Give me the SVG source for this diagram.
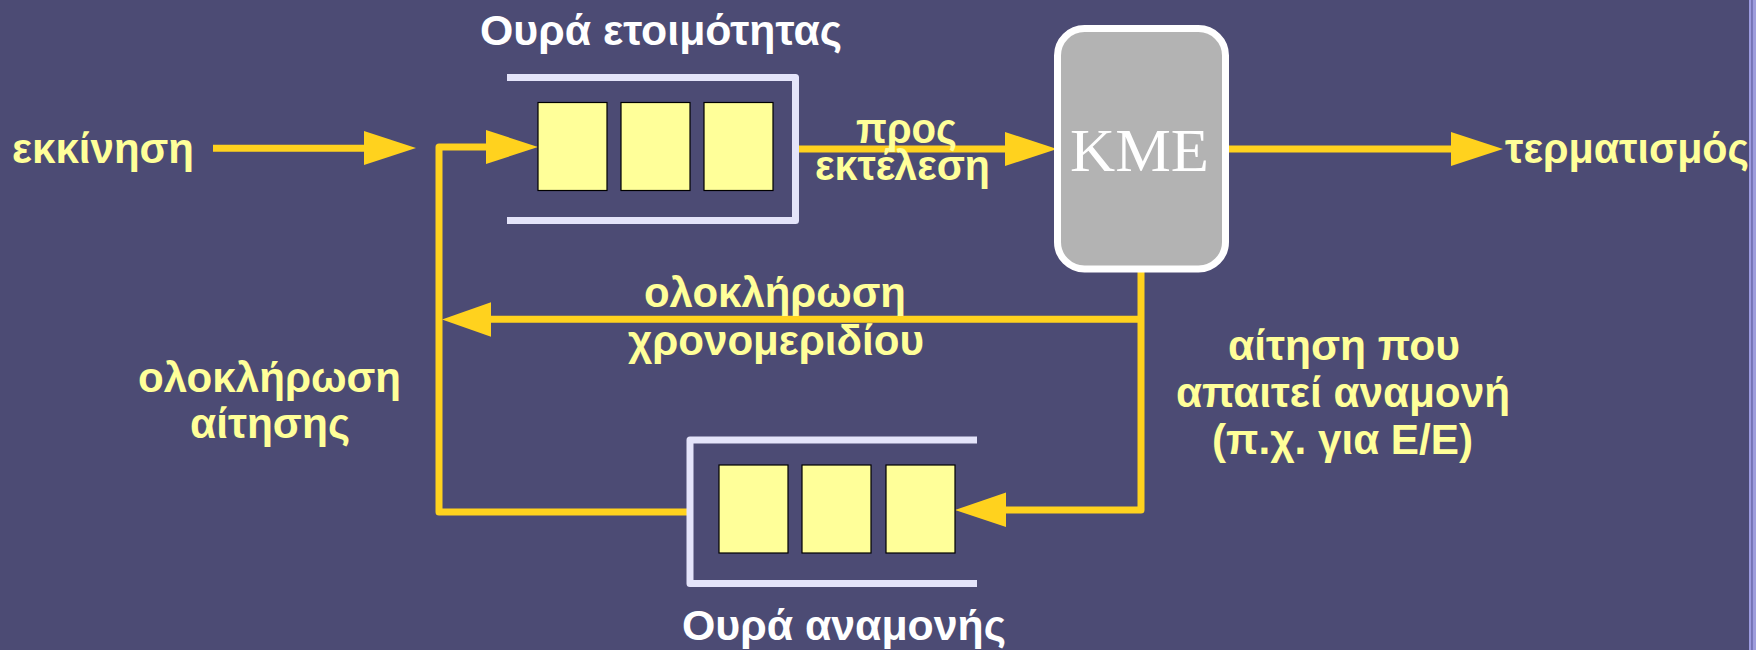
<svg xmlns="http://www.w3.org/2000/svg" width="1756" height="650" viewBox="0 0 1756 650">
  <defs>
    <style>
      .lbl { font-family: "Liberation Sans", Arial, "Noto Sans", sans-serif; font-weight: bold; font-size: 42px; fill: #FFFF99; }
      .ttl { font-family: "Liberation Sans", Arial, "Noto Sans", sans-serif; font-weight: bold; font-size: 43px; fill: #FFFFFF; }
      .cpu-txt { font-family: "Liberation Serif", "Times New Roman", serif; font-size: 62px; fill: #FFFFFF; }
      .wire { fill: none; stroke: #FFD21E; stroke-width: 7; stroke-linejoin: round; }
      .head { fill: #FFD21E; }
      .bracket { fill: none; stroke: #E4E4FA; stroke-width: 7; stroke-linejoin: round; }
      .slot { fill: #FFFF99; stroke: #000000; stroke-width: 1.2; }
    </style>
  </defs>

  <!-- background -->
  <rect x="0" y="0" width="1756" height="650" fill="#4C4B74"/>
  <rect x="1749" y="0" width="2.5" height="650" fill="#9C9BE0"/>
  <rect x="1751.5" y="0" width="1.5" height="650" fill="#7877BC"/>
  <rect x="1753" y="0" width="3" height="650" fill="#9E9DDC"/>

  <!-- connectors -->
  <g id="connectors">
    <!-- start -> ready queue -->
    <line class="wire" x1="213" y1="148.3" x2="370" y2="148.3"/>
    <polygon class="head" points="364,131 416,148 364,165"/>
    <!-- waiting queue -> back into ready queue -->
    <path class="wire" d="M688,512 H439 V147 H492"/>
    <polygon class="head" points="486,130 538,147 486,164"/>
    <!-- ready queue -> CPU -->
    <line class="wire" x1="796" y1="149" x2="1010" y2="149"/>
    <polygon class="head" points="1005,132 1057,149 1005,166"/>
    <!-- CPU -> termination -->
    <line class="wire" x1="1226" y1="149" x2="1456" y2="149"/>
    <polygon class="head" points="1451,132 1503,149 1451,166"/>
    <!-- CPU -> time slice expired / I/O wait -->
    <path class="wire" d="M1141,269 V510 H1000"/>
    <line class="wire" x1="1141" y1="319.3" x2="486" y2="319.3"/>
    <polygon class="head" points="491,302.3 442,319.5 491,336.7"/>
    <polygon class="head" points="1006,492.5 955,510 1006,527"/>
  </g>

  <!-- ready queue -->
  <g id="ready-queue">
    <path class="bracket" d="M507,77.5 H795.5 V220.5 H507"/>
    <rect class="slot" x="538" y="102.5" width="69" height="88"/>
    <rect class="slot" x="621" y="102.5" width="69" height="88"/>
    <rect class="slot" x="704" y="102.5" width="69" height="88"/>
    <text class="ttl" x="480" y="45" textLength="362" lengthAdjust="spacingAndGlyphs">Ουρά ετοιμότητας</text>
  </g>

  <!-- CPU -->
  <g id="cpu">
    <rect x="1057.5" y="28.5" width="168" height="240.5" rx="27" ry="27" fill="#B3B3B3" stroke="#FFFFFF" stroke-width="7"/>
    <text class="cpu-txt" x="1070" y="171" textLength="139" lengthAdjust="spacingAndGlyphs">KME</text>
  </g>

  <!-- waiting queue -->
  <g id="wait-queue">
    <path class="bracket" d="M977,440 H690 V583.5 H977"/>
    <rect class="slot" x="719" y="465" width="69" height="88"/>
    <rect class="slot" x="802" y="465" width="69" height="88"/>
    <rect class="slot" x="886" y="465" width="69" height="88"/>
    <text class="ttl" x="682" y="640" textLength="324" lengthAdjust="spacingAndGlyphs">Ουρά αναμονής</text>
  </g>

  <!-- labels -->
  <g id="label-start">
    <text class="lbl" x="12" y="163" textLength="182" lengthAdjust="spacingAndGlyphs">εκκίνηση</text>
  </g>
  <g id="label-dispatch">
    <text class="lbl" x="856" y="143" textLength="101" lengthAdjust="spacingAndGlyphs">προς</text>
    <text class="lbl" x="815" y="180" textLength="175" lengthAdjust="spacingAndGlyphs">εκτέλεση</text>
  </g>
  <g id="label-exit">
    <text class="lbl" x="1505" y="163" textLength="244" lengthAdjust="spacingAndGlyphs">τερματισμός</text>
  </g>
  <g id="label-timeslice">
    <text class="lbl" x="644" y="307" textLength="262" lengthAdjust="spacingAndGlyphs">ολοκλήρωση</text>
    <text class="lbl" x="628" y="355" textLength="296" lengthAdjust="spacingAndGlyphs">χρονομεριδίου</text>
  </g>
  <g id="label-io-done">
    <text class="lbl" x="138" y="392" textLength="263" lengthAdjust="spacingAndGlyphs">ολοκλήρωση</text>
    <text class="lbl" x="190" y="438" textLength="160" lengthAdjust="spacingAndGlyphs">αίτησης</text>
  </g>
  <g id="label-io-wait">
    <text class="lbl" x="1228" y="360" textLength="232" lengthAdjust="spacingAndGlyphs">αίτηση που</text>
    <text class="lbl" x="1176" y="407" textLength="334" lengthAdjust="spacingAndGlyphs">απαιτεί αναμονή</text>
    <text class="lbl" x="1212" y="454" textLength="261" lengthAdjust="spacingAndGlyphs">(π.χ. για Ε/Ε)</text>
  </g>
</svg>
